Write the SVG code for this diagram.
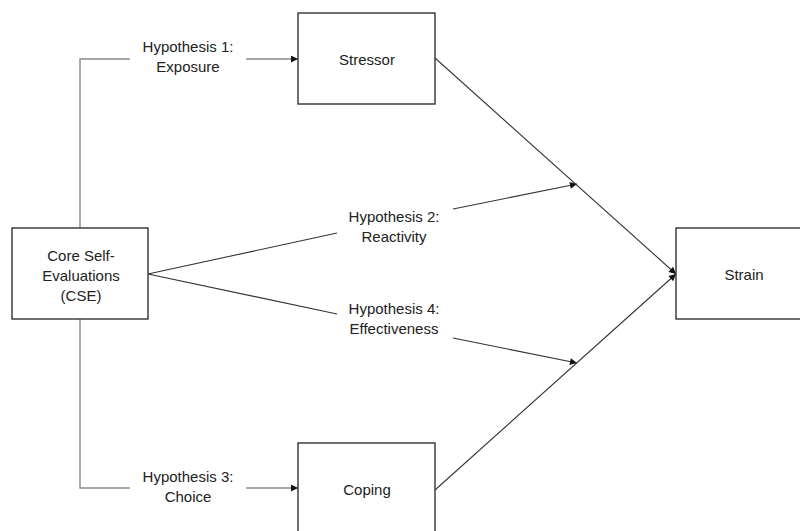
<svg xmlns="http://www.w3.org/2000/svg" width="800" height="531" viewBox="0 0 800 531">
<style>
.box{fill:#fff;stroke:#333;stroke-width:1.4}
.t{font-family:"Liberation Sans",Arial,sans-serif;font-size:15px;fill:#222;text-anchor:middle}
.g{fill:none;stroke:#8a8a8a;stroke-width:1.4}
.d{fill:none;stroke:#333;stroke-width:1.1}
</style>
<defs>
<marker id="ah" viewBox="0 0 10 10" refX="10" refY="5" markerWidth="10" markerHeight="7" markerUnits="userSpaceOnUse" orient="auto">
<path d="M0,0 L10,5 L0,10 z" fill="#111"/>
</marker>
</defs>
<rect width="800" height="531" fill="#fff"/>
<g id="connectors">
<polyline class="g" points="80,229 80,59 130,59"/>
<line class="g" x1="246" y1="59" x2="298" y2="59" marker-end="url(#ah)"/>
<polyline class="g" points="80,319 80,488 130,488"/>
<line class="g" x1="246" y1="488" x2="298" y2="488" marker-end="url(#ah)"/>
<line class="d" x1="148" y1="274" x2="337" y2="233"/>
<line class="d" x1="453" y1="209" x2="577" y2="184" marker-end="url(#ah)"/>
<line class="d" x1="148" y1="274" x2="337" y2="314"/>
<line class="d" x1="453" y1="338" x2="577" y2="363" marker-end="url(#ah)"/>
<line class="d" x1="435" y1="58" x2="676" y2="274" marker-end="url(#ah)"/>
<line class="d" x1="435" y1="490" x2="676" y2="274" marker-end="url(#ah)"/>
</g>
<g id="labels">
<text class="t" x="188" y="52">Hypothesis 1:</text>
<text class="t" x="188" y="72">Exposure</text>
<text class="t" x="394" y="222">Hypothesis 2:</text>
<text class="t" x="394" y="242">Reactivity</text>
<text class="t" x="394" y="314">Hypothesis 4:</text>
<text class="t" x="394" y="334">Effectiveness</text>
<text class="t" x="188" y="482">Hypothesis 3:</text>
<text class="t" x="188" y="502">Choice</text>
</g>
<g id="cse">
<rect class="box" x="12" y="228" width="136" height="91"/>
<text class="t" x="81" y="261">Core Self-</text>
<text class="t" x="81" y="281">Evaluations</text>
<text class="t" x="81" y="301">(CSE)</text>
</g>
<g id="stressor">
<rect class="box" x="298" y="13" width="137" height="91"/>
<text class="t" x="367" y="65">Stressor</text>
</g>
<g id="coping">
<rect class="box" x="298" y="443" width="137" height="95"/>
<text class="t" x="367" y="495">Coping</text>
</g>
<g id="strain">
<rect class="box" x="676" y="228" width="130" height="91"/>
<text class="t" x="744" y="280">Strain</text>
</g>
</svg>
